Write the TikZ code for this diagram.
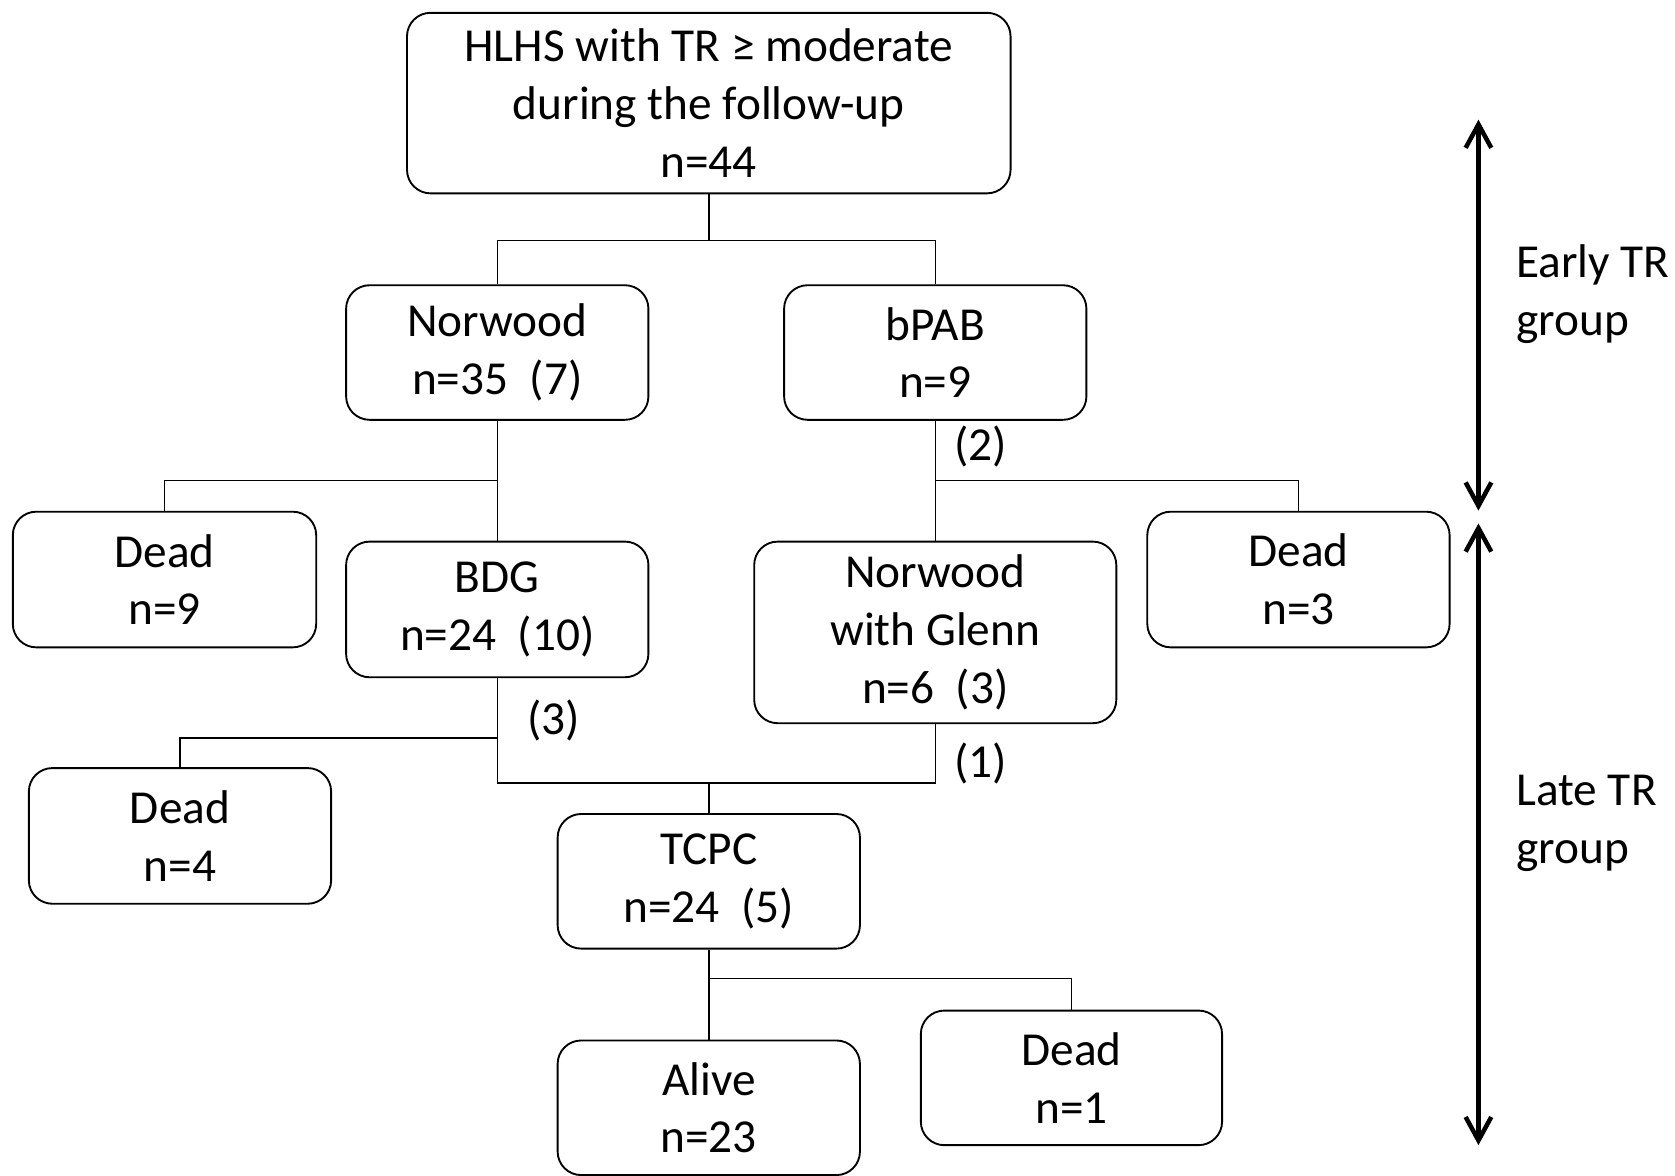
\documentclass[tikz,border=0pt]{standalone}
\usepackage{fontspec}
\setmainfont{Carlito}
\usepackage{tikz}
\usetikzlibrary{arrows.meta}
\usetikzlibrary{positioning}

\begin{document}
\begin{tikzpicture}[thick,
    box node/.style={draw,rounded corners=0.22cm,line width=0.5pt,align=center,inner sep=0pt,
      minimum width=2.83cm,minimum height=1.26cm,font=\fontsize{12.6}{15.4}\selectfont},
    num node/.style={inner sep=0pt,font=\fontsize{12.6}{15.4}\selectfont},
    group node/.style={anchor=west,align=left,inner sep=0pt,font=\fontsize{12.6}{15.4}\selectfont},
    link/.style={-,line width=0.4pt},
    span/.style={{Straight Barb[length=2.2mm,width=2.4mm]}-{Straight Barb[length=2.2mm,width=2.4mm]},line width=1.2pt}]
  \useasboundingbox (0,0) rectangle (15.68,-11.00);

  % boxes
  \node[box node,minimum width=5.65cm,minimum height=1.69cm] (top) at (6.635,-0.965) {HLHS with TR ≥ moderate\\during the follow-up\\n=44};
  \node[box node] (nor) at (4.655,-3.30) {Norwood\\n=35\ \ (7)};
  \node[box node] (bpab) at (8.755,-3.30) {bPAB\\n=9};
  \node[box node,minimum width=2.84cm,minimum height=1.27cm] (dnine) at (1.54,-5.425) {Dead\\n=9};
  \node[box node,minimum height=1.27cm] (bdg) at (4.655,-5.705) {BDG\\n=24\ \ (10)};
  \node[box node,minimum width=3.39cm,minimum height=1.70cm] (nwg) at (8.755,-5.92) {Norwood\\with Glenn\\n=6\ \ (3)};
  \node[box node,minimum height=1.27cm] (dthree) at (12.155,-5.425) {Dead\\n=3};
  \node[box node,minimum height=1.27cm] (dfour) at (1.685,-7.825) {Dead\\n=4};
  \node[box node] (tcpc) at (6.635,-8.25) {TCPC\\n=24\ \ (5)};
  \node[box node] (alive) at (6.635,-10.37) {Alive\\n=23};
  \node[box node,minimum width=2.82cm] (done) at (10.03,-10.09) {Dead\\n=1};

  % junctions
  \coordinate (j1) at (6.635,-2.25);
  \coordinate (j2) at (4.655,-4.50);
  \coordinate (j3) at (8.755,-4.50);
  \coordinate (j4) at (4.655,-6.91);
  \coordinate (j5) at (4.655,-7.33);
  \coordinate (j6) at (6.635,-7.33);
  \coordinate (j7) at (6.635,-9.16);

  \path[link] (top) edge (j1);
  \draw[link] (nor.north) |- (j1) -| (bpab.north);
  \path[link] (nor) edge (bdg);
  \draw[link] (dnine.north) |- (j2);
  \path[link] (bpab) edge (nwg);
  \draw[link] (dthree.north) |- (j3);
  \path[link] (bdg.south) edge (j5);
  \draw[link] (dfour.north) |- (j4);
  \draw[link] (nwg.south) |- (j5);
  \path[link] (j6) edge (tcpc);
  \path[link] (tcpc) edge (alive);
  \draw[link] (done.north) |- (j7);

  % counts on the links
  \node[num node] (ntwo) at (9.18,-4.18) {(2)};
  \node[num node] (nthree) at (5.18,-6.74) {(3)};
  \node[num node] (none) at (9.18,-7.15) {(1)};

  % groups
  \coordinate (e1) at (13.84,-1.12);
  \coordinate (e2) at (13.84,-4.78);
  \coordinate (l1) at (13.84,-4.90);
  \coordinate (l2) at (13.84,-10.72);
  \draw[span] (e1) -- (e2);
  \draw[span] (l1) -- (l2);
  \node[group node] (early) at (14.18,-2.755) {Early TR\\group};
  \node[group node] (late) at (14.18,-7.705) {Late TR\\group};
\end{tikzpicture}
\end{document}
